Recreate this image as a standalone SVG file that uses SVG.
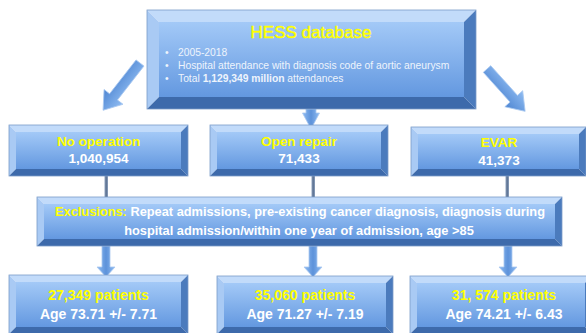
<svg xmlns="http://www.w3.org/2000/svg" width="586" height="333" viewBox="0 0 586 333">
<defs>
<linearGradient id="face" x1="0" y1="0" x2="0" y2="1">
<stop offset="0" stop-color="#a3c9f7"/>
<stop offset="1" stop-color="#6398e0"/>
</linearGradient>
<linearGradient id="arrowG" x1="0" y1="0" x2="0" y2="1">
<stop offset="0" stop-color="#8fbcf2"/>
<stop offset="1" stop-color="#4f86d2"/>
</linearGradient>
<linearGradient id="arrowH" x1="0" y1="0" x2="1" y2="0">
<stop offset="0" stop-color="#8fbcf2"/>
<stop offset="0.5" stop-color="#5d92da"/>
<stop offset="1" stop-color="#8fbcf2"/>
</linearGradient>
<linearGradient id="lineG" x1="0" y1="0" x2="1" y2="0">
<stop offset="0" stop-color="#8fa3bf"/>
<stop offset="0.5" stop-color="#5b7090"/>
<stop offset="1" stop-color="#8fa3bf"/>
</linearGradient>
</defs>
<style>
.bt{fill:#c2dbfa}
.bl{fill:#a9caf4}
.br{fill:#4b7bbd}
.bb{fill:#3d6aab}
.fc{fill:url(#face)}
.ol{fill:none;stroke:#7a9cc8;stroke-width:0.8}
.y{fill:#ffff00;font-family:"Liberation Sans",Arial,sans-serif;font-weight:bold;text-anchor:middle}
.w{fill:#ffffff;font-family:"Liberation Sans",Arial,sans-serif;font-weight:bold;text-anchor:middle}
.b{fill:#eef4fc;font-family:"Liberation Sans",Arial,sans-serif;font-size:10.3px}
.arr{fill:url(#arrowH);stroke:#a9c8f0;stroke-width:0.8}
.da{fill:url(#arrowG);stroke:#a9c8f0;stroke-width:0.8}
.ln{fill:url(#lineG)}
</style>
<rect width="586" height="333" fill="#ffffff"/>

<g id="connectors">
<g transform="translate(140,63) rotate(128)">
<polygon class="da" points="0,-5 43,-5 43,-12 60,0 43,12 43,5 0,5"/>
</g>
<g transform="translate(487,69) rotate(48)">
<polygon class="da" points="0,-5 40,-5 40,-12 57,0 40,12 40,5 0,5"/>
</g>
<polygon class="arr" points="306,109 316,109 316,113 319.5,113 311,129 302.5,113 306,113"/>
<rect class="ln" x="104.5" y="176" width="3.5" height="21"/>
<rect class="ln" x="311.5" y="176" width="3.5" height="21"/>
<rect class="ln" x="505.5" y="176" width="3.5" height="21"/>
<polygon class="arr" points="102,246 110,246 110,267 115,267 106,277 97,267 102,267"/>
<polygon class="arr" points="309,246 317,246 317,267 322,267 313,277 304,267 309,267"/>
<polygon class="arr" points="504,246 512,246 512,267 517,267 508,277 499,267 504,267"/>
</g>

<g id="hess">
<polygon class="bt" points="147,10 476,10 464,22 159,22"/>
<polygon class="bl" points="147,10 159,22 159,97 147,109"/>
<polygon class="br" points="476,10 476,109 464,97 464,22"/>
<polygon class="bb" points="147,109 159,97 464,97 476,109"/>
<rect class="fc" x="159" y="22" width="305" height="75"/>
<rect class="ol" x="147" y="10" width="329" height="99"/>
<text x="311" y="38" fill="#ffff00" stroke="#ffff00" stroke-width="0.45" font-family="Liberation Sans,Arial,sans-serif" font-size="17" text-anchor="middle">HESS database</text>
<text class="b" x="165" y="55.5">•</text>
<text class="b" x="178" y="55.5">2005-2018</text>
<text class="b" x="165" y="68.5">•</text>
<text class="b" x="178" y="68.5">Hospital attendance with diagnosis code of aortic aneurysm</text>
<text class="b" x="165" y="81.5">•</text>
<text class="b" x="178" y="81.5">Total <tspan font-weight="bold">1,129,349 million</tspan> attendances</text>
</g>

<g id="no-operation">
<polygon class="bt" points="9,125 188,125 181,132 16,132"/>
<polygon class="bl" points="9,125 16,132 16,169 9,176"/>
<polygon class="br" points="188,125 188,176 181,169 181,132"/>
<polygon class="bb" points="9,176 16,169 181,169 188,176"/>
<rect class="fc" x="16" y="132" width="165" height="37"/>
<rect class="ol" x="9" y="125" width="179" height="51"/>
<text class="y" x="98.5" y="145.5" font-size="13.5">No operation</text>
<text class="w" x="98.5" y="163" font-size="13.5">1,040,954</text>
</g>

<g id="open-repair">
<polygon class="bt" points="210,125 388,125 381,132 217,132"/>
<polygon class="bl" points="210,125 217,132 217,169 210,176"/>
<polygon class="br" points="388,125 388,176 381,169 381,132"/>
<polygon class="bb" points="210,176 217,169 381,169 388,176"/>
<rect class="fc" x="217" y="132" width="164" height="37"/>
<rect class="ol" x="210" y="125" width="178" height="51"/>
<text class="y" x="299" y="145.5" font-size="13.5">Open repair</text>
<text class="w" x="299" y="163" font-size="13.5">71,433</text>
</g>

<g id="evar">
<polygon class="bt" points="411,127 586,127 579,134 418,134"/>
<polygon class="bl" points="411,127 418,134 418,169 411,176"/>
<polygon class="br" points="586,127 586,176 579,169 579,134"/>
<polygon class="bb" points="411,176 418,169 579,169 586,176"/>
<rect class="fc" x="418" y="134" width="161" height="35"/>
<rect class="ol" x="411" y="127" width="175" height="49"/>
<text class="y" x="499" y="146.5" font-size="13.5">EVAR</text>
<text class="w" x="499" y="164.5" font-size="13.5">41,373</text>
</g>

<g id="exclusions">
<polygon class="bt" points="37,197 562,197 555,204 44,204"/>
<polygon class="bl" points="37,197 44,204 44,239 37,246"/>
<polygon class="br" points="562,197 562,246 555,239 555,204"/>
<polygon class="bb" points="37,246 44,239 555,239 562,246"/>
<rect class="fc" x="44" y="204" width="511" height="35"/>
<rect class="ol" x="37" y="197" width="525" height="49"/>
<text class="w" x="300" y="216" font-size="12.8"><tspan fill="#ffff00">Exclusions:</tspan> Repeat admissions, pre-existing cancer diagnosis, diagnosis during</text>
<text class="w" x="299" y="234.5" font-size="12.8">hospital admission/within one year of admission, age &gt;85</text>
</g>

<g id="group-no-operation">
<polygon class="bt" points="9,275 188,275 181,282 16,282"/>
<polygon class="bl" points="9,275 16,282 16,327 9,334"/>
<polygon class="br" points="188,275 188,334 181,327 181,282"/>
<polygon class="bb" points="9,334 16,327 181,327 188,334"/>
<rect class="fc" x="16" y="282" width="165" height="45"/>
<rect class="ol" x="9" y="275" width="179" height="59"/>
<text class="y" x="98.5" y="299.5" font-size="14">27,349 patients</text>
<text class="w" x="98.5" y="318.5" font-size="14">Age 73.71 +/- 7.71</text>
</g>

<g id="group-open-repair">
<polygon class="bt" points="217,276 393,276 386,283 224,283"/>
<polygon class="bl" points="217,276 224,283 224,327 217,334"/>
<polygon class="br" points="393,276 393,334 386,327 386,283"/>
<polygon class="bb" points="217,334 224,327 386,327 393,334"/>
<rect class="fc" x="224" y="283" width="162" height="44"/>
<rect class="ol" x="217" y="276" width="176" height="58"/>
<text class="y" x="305" y="299.5" font-size="14">35,060 patients</text>
<text class="w" x="305" y="318.5" font-size="14">Age 71.27 +/- 7.19</text>
</g>

<g id="group-evar">
<polygon class="bt" points="410,276 592,276 585,283 417,283"/>
<polygon class="bl" points="410,276 417,283 417,327 410,334"/>
<polygon class="br" points="592,276 592,334 585,327 585,283"/>
<polygon class="bb" points="410,334 417,327 585,327 592,334"/>
<rect class="fc" x="417" y="283" width="168" height="44"/>
<rect class="ol" x="410" y="276" width="182" height="58"/>
<text class="y" x="504" y="299.5" font-size="14">31, 574 patients</text>
<text class="w" x="504" y="318.5" font-size="14">Age 74.21 +/- 6.43</text>
</g>
</svg>
